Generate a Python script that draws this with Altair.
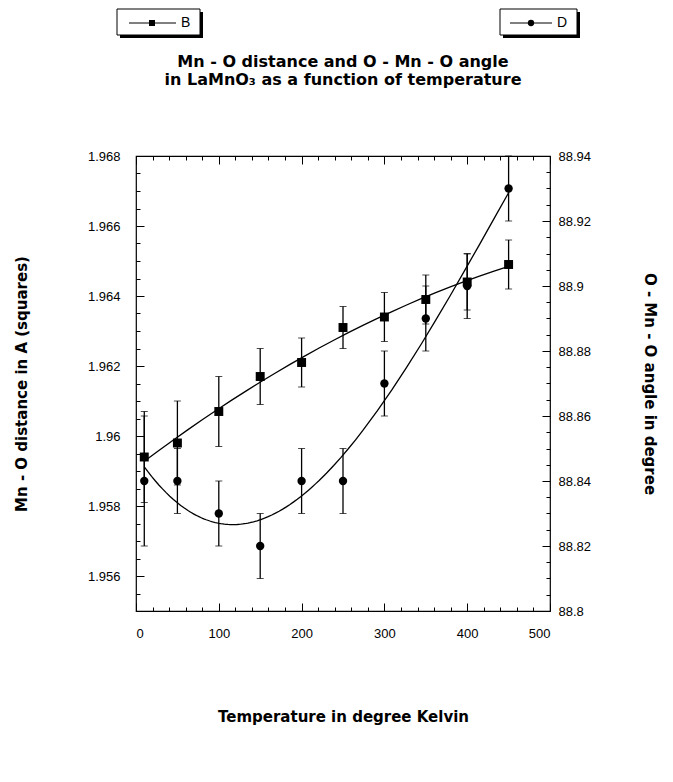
import altair as alt
import pandas as pd

# ---- data ----
T = [10, 50, 100, 150, 200, 250, 300, 350, 400, 450]
B = [1.9594, 1.9598, 1.9607, 1.9617, 1.9621, 1.9631, 1.9634, 1.9639, 1.9644, 1.9649]
B_err = [0.0013, 0.0012, 0.0010, 0.0008, 0.0007, 0.0006, 0.0007, 0.0007, 0.0008, 0.0007]
D = [88.84, 88.84, 88.83, 88.82, 88.84, 88.84, 88.87, 88.89, 88.90, 88.93]
D_err = [0.02, 0.01, 0.01, 0.01, 0.01, 0.01, 0.01, 0.01, 0.01, 0.01]

x_major = [0, 100, 200, 300, 400, 500]
x_minor = [20, 40, 60, 80, 120, 140, 160, 180, 220, 240, 260, 280,
           320, 340, 360, 380, 420, 440, 460, 480]
yL_major = [1.956, 1.958, 1.960, 1.962, 1.964, 1.966, 1.968]
yL_minor = [1.9555, 1.9565, 1.957, 1.9575, 1.9585, 1.959, 1.9595, 1.9605, 1.961,
            1.9615, 1.9625, 1.963, 1.9635, 1.9645, 1.965, 1.9655, 1.9665, 1.967, 1.9675]
yR_major = [88.80, 88.82, 88.84, 88.86, 88.88, 88.90, 88.92, 88.94]
yR_minor = [88.805, 88.81, 88.815, 88.825, 88.83, 88.835, 88.845, 88.85, 88.855,
            88.865, 88.87, 88.875, 88.885, 88.89, 88.895, 88.905, 88.91, 88.915,
            88.925, 88.93, 88.935]

title_lines = ["Mn - O distance and O - Mn - O angle",
               "in LaMnO\u2083 as a function of temperature"]
x_title = "Temperature in degree Kelvin"
yL_title = "Mn - O distance in A (squares)"
yR_title = "O - Mn - O angle in degree"
legend_labels = ["B", "D"]

W, H = 414, 455
FONT = "Liberation Sans"
BOLD = "DejaVu Sans"

df = pd.DataFrame({"T": T, "B": B, "Be": B_err, "D": D, "De": D_err})
one = pd.DataFrame({"k": [0]})

xs = alt.Scale(domain=[0, 500], nice=False, zero=False)
ysL = alt.Scale(domain=[1.955, 1.968], nice=False, zero=False)
ysR = alt.Scale(domain=[88.8, 88.94], nice=False, zero=False)


def inward(n):
    return alt.ExprRef(expr=str(-n))


def tick_axis(orient, values, size):
    return alt.Axis(orient=orient, values=values, labels=False, title=None,
                    domain=False, grid=False, tickSize=inward(size),
                    tickColor="black", tickWidth=1)


base = alt.Chart(df)

# ---- left series (B, squares) ----
b_fit = base.transform_regression("T", "B", method="poly", order=2).mark_line(
    color="black", strokeWidth=1.3
).encode(
    x=alt.X("T:Q", scale=xs, axis=alt.Axis(
        orient="bottom", values=x_major, title=x_title, titleFont=BOLD,
        titleFontWeight="bold", titleFontSize=15, titleColor="black",
        titlePadding=69, labelFont=FONT, labelFontSize=13, labelColor="black",
        labelPadding=24, tickSize=inward(8), tickColor="black", domain=False,
        grid=False)),
    y=alt.Y("B:Q", scale=ysL, axis=alt.Axis(
        orient="left", values=yL_major, format="~g", title=yL_title,
        titleFont=BOLD, titleFontWeight="bold", titleFontSize=15,
        titleColor="black", titlePadding=58, labelFont=FONT, labelFontSize=13,
        labelColor="black", labelPadding=24, tickSize=inward(8),
        tickColor="black", domain=False, grid=False)),
)

b_err = base.transform_calculate(
    lo="datum.B - datum.Be", hi="datum.B + datum.Be"
).mark_rule(color="black", strokeWidth=1.3).encode(
    x=alt.X("T:Q", scale=xs, axis=tick_axis("bottom", x_minor, 4)),
    y=alt.Y("lo:Q", scale=ysL, axis=tick_axis("left", yL_minor, 4)),
    y2="hi:Q",
)

b_cap_lo = base.transform_calculate(lo="datum.B - datum.Be").mark_tick(
    orient="horizontal", color="black", thickness=1, size=7
).encode(
    x=alt.X("T:Q", scale=xs, axis=tick_axis("top", x_major, 8)),
    y=alt.Y("lo:Q", scale=ysL, axis=None),
)
b_cap_hi = base.transform_calculate(hi="datum.B + datum.Be").mark_tick(
    orient="horizontal", color="black", thickness=1, size=7
).encode(
    x=alt.X("T:Q", scale=xs, axis=tick_axis("top", x_minor, 4)),
    y=alt.Y("hi:Q", scale=ysL, axis=None),
)
b_pts = base.mark_point(shape="square", filled=True, color="black",
                        size=80, opacity=1).encode(
    x=alt.X("T:Q", scale=xs, axis=None),
    y=alt.Y("B:Q", scale=ysL, axis=None),
)

# ---- right series (D, circles) ----
d_fit = base.transform_regression("T", "D", method="poly", order=3).mark_line(
    color="black", strokeWidth=1.3
).encode(
    x=alt.X("T:Q", scale=xs, axis=None),
    y=alt.Y("D:Q", scale=ysR, axis=alt.Axis(
        orient="right", values=yR_major, format="~g", title=yR_title,
        titleFont=BOLD, titleFontWeight="bold", titleFontSize=15,
        titleColor="black", titlePadding=51, labelFont=FONT, labelFontSize=13,
        labelColor="black", labelPadding=16, tickSize=inward(8),
        tickColor="black", domain=False, grid=False)),
)
d_err = base.transform_calculate(
    lo="datum.D - datum.De", hi="datum.D + datum.De"
).mark_rule(color="black", strokeWidth=1.3).encode(
    x=alt.X("T:Q", scale=xs, axis=None),
    y=alt.Y("lo:Q", scale=ysR, axis=tick_axis("right", yR_minor, 4)),
    y2="hi:Q",
)
d_cap_lo = base.transform_calculate(lo="datum.D - datum.De").mark_tick(
    orient="horizontal", color="black", thickness=1, size=7
).encode(
    x=alt.X("T:Q", scale=xs, axis=None),
    y=alt.Y("lo:Q", scale=ysR, axis=None),
)
d_cap_hi = base.transform_calculate(hi="datum.D + datum.De").mark_tick(
    orient="horizontal", color="black", thickness=1, size=7
).encode(
    x=alt.X("T:Q", scale=xs, axis=None),
    y=alt.Y("hi:Q", scale=ysR, axis=None),
)
d_pts = base.mark_circle(color="black", size=70, opacity=1).encode(
    x=alt.X("T:Q", scale=xs, axis=None),
    y=alt.Y("D:Q", scale=ysR, axis=None),
)

# ---- title text ----
deco = alt.Chart(one)
t1 = deco.mark_text(font=BOLD, fontWeight="bold", fontSize=16, color="black",
                    align="center", baseline="alphabetic").encode(
    x=alt.value(W / 2), y=alt.value(-89), text=alt.value(title_lines[0]))
t2 = deco.mark_text(font=BOLD, fontWeight="bold", fontSize=16, color="black",
                    align="center", baseline="alphabetic").encode(
    x=alt.value(W / 2), y=alt.value(-71), text=alt.value(title_lines[1]))


# ---- legend boxes ----
def legend_box(x0, x1, y0, y1):
    shadow = deco.mark_rect(color="black").encode(
        x=alt.value(x0 + 3), x2=alt.value(x1 + 3),
        y=alt.value(y0 + 3), y2=alt.value(y1 + 3))
    box = deco.mark_rect(fill="white", stroke="black", strokeWidth=1).encode(
        x=alt.value(x0), x2=alt.value(x1), y=alt.value(y0), y2=alt.value(y1))
    return [shadow, box]


LY = -133
leg = []
leg += legend_box(-19, 64, -147, -121)
leg.append(deco.mark_rule(color="black", strokeWidth=1).encode(
    x=alt.value(-7), x2=alt.value(40), y=alt.value(LY)))
leg.append(deco.mark_point(shape="square", filled=True, color="black",
                           size=36, opacity=1).encode(
    x=alt.value(16), y=alt.value(LY)))
leg.append(deco.mark_text(font=FONT, fontSize=14, color="black", align="left",
                          baseline="middle").encode(
    x=alt.value(45), y=alt.value(LY), text=alt.value(legend_labels[0])))
leg += legend_box(364, 441, -147, -121)
leg.append(deco.mark_rule(color="black", strokeWidth=1).encode(
    x=alt.value(374), x2=alt.value(416), y=alt.value(LY)))
leg.append(deco.mark_circle(color="black", size=40, opacity=1).encode(
    x=alt.value(395), y=alt.value(LY)))
leg.append(deco.mark_text(font=FONT, fontSize=14, color="black", align="left",
                          baseline="middle").encode(
    x=alt.value(421), y=alt.value(LY), text=alt.value(legend_labels[1])))

chart = alt.layer(
    b_fit, b_err, b_cap_lo, b_cap_hi, b_pts,
    d_fit, d_err, d_cap_lo, d_cap_hi, d_pts,
    t1, t2, *leg
).resolve_scale(y="independent").resolve_axis(
    x="independent", y="independent"
).properties(
    width=W, height=H,
    autosize=alt.AutoSizeParams(type="none"),
    padding={"left": 128, "top": 148, "right": 115, "bottom": 163},
    background="white",
).configure_view(stroke="black", strokeWidth=1.2)

chart.save("out.html", embed_options={"renderer": "svg", "actions": False})
